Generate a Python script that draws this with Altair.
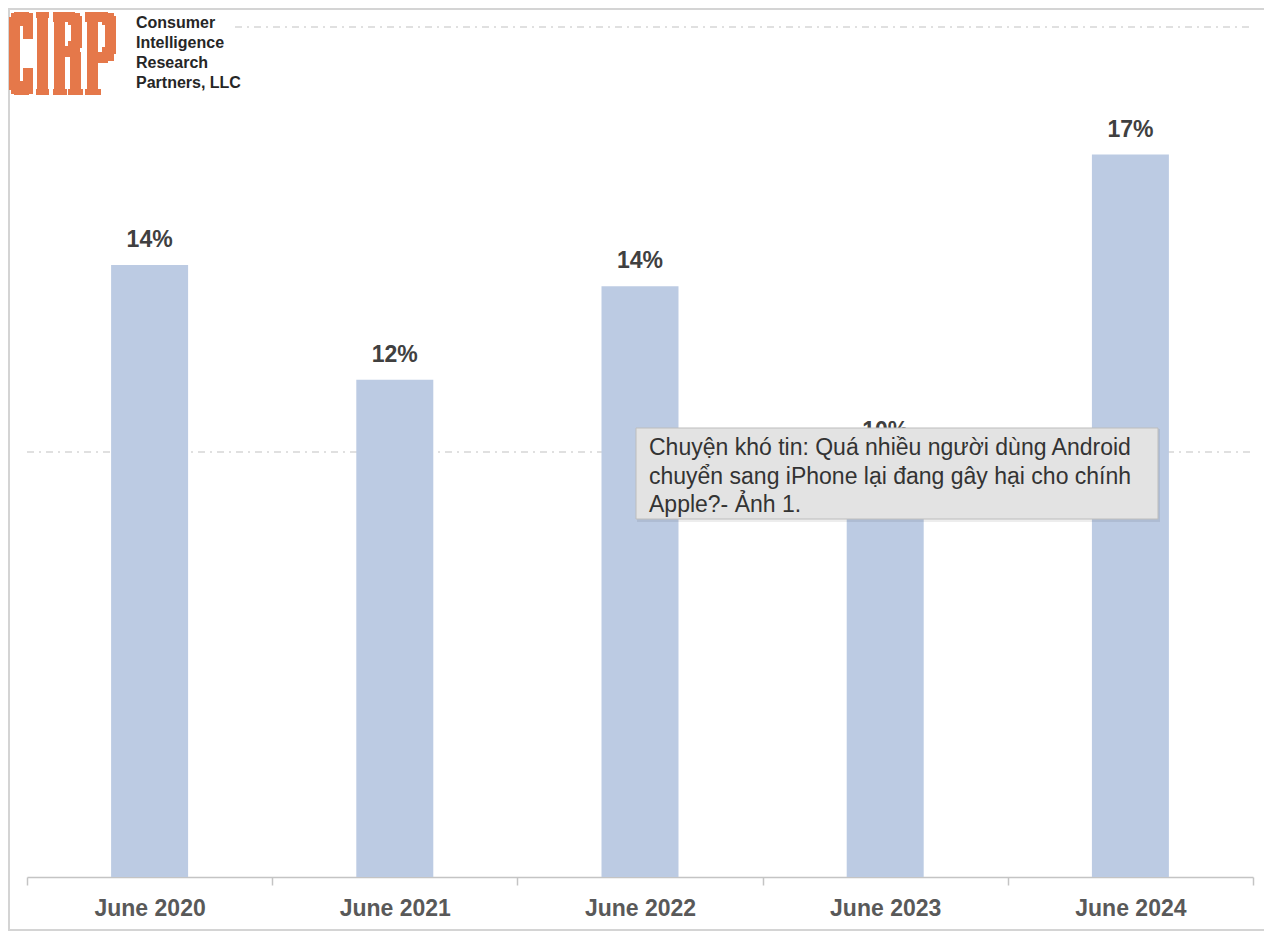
import altair as alt
import pandas as pd

periods = ["June 2020", "June 2021", "June 2022", "June 2023", "June 2024"]
shares = [14.4, 11.7, 13.9, 9.9, 17.0]
share_labels = ["14%", "12%", "14%", "10%", "17%"]

logo_lines = ["Consumer", "Intelligence", "Research", "Partners, LLC"]
tooltip_lines = ["Chuyện khó tin: Quá nhiều người dùng Android",
                 "chuyển sang iPhone lại đang gây hại cho chính",
                 "Apple?- Ảnh 1."]

df = pd.DataFrame({"period": periods, "share": shares, "label": share_labels})

W, H = 1226, 850
Y_SCALE = alt.Scale(domain=[0, 20], nice=False, zero=True)
X_ENC = alt.X(
    "period:N", sort=periods,
    scale=alt.Scale(paddingInner=0, paddingOuter=0),
    axis=alt.Axis(title=None, labelAngle=0, tickBand="extent", domainColor="#c4c4c4",
                  domainWidth=1.5, tickColor="#c4c4c4", tickWidth=1.5, tickSize=8,
                  labelFont="Liberation Sans, sans-serif",
                  labelFontSize=23, labelFontWeight="bold", labelColor="#595959",
                  labelPadding=12),
)

base = alt.Chart(df)

bars = base.mark_bar(width=alt.RelativeBandSize(0.314), color="#bccbe3").encode(
    x=X_ENC,
    y=alt.Y("share:Q", scale=Y_SCALE, axis=None),
)
labels = base.mark_text(dy=-25, baseline="middle", fontWeight="bold", fontSize=23,
                        font="Liberation Sans, sans-serif",
                        color="#404040").encode(
    x=alt.X("period:N", sort=periods),
    y=alt.Y("share:Q", scale=Y_SCALE, axis=None),
    text="label:N",
)

one = alt.Chart(pd.DataFrame({"a": [0]}))
dash = [7, 5, 2, 5]
grid10 = one.mark_rule(color="#d6d6d6", strokeWidth=1.5, strokeDash=dash).encode(
    y=alt.Y(datum=10, scale=Y_SCALE, axis=None), x=alt.value(0), x2=alt.value(W))
grid20 = one.mark_rule(color="#d6d6d6", strokeWidth=1.5, strokeDash=dash).encode(
    y=alt.Y(datum=20, scale=Y_SCALE, axis=None), x=alt.value(208), x2=alt.value(W))

frame = one.mark_rect(fill="transparent", stroke="#d4d4d4", strokeWidth=2).encode(
    x=alt.value(-18), x2=alt.value(W + 40), y=alt.value(-18), y2=alt.value(903))

# CIRP logo: block letters built from rectangles (logo box is 108 x 83 px)
LOGO_X, LOGO_Y = -18, -15
glyph_rects = [
    # C
    (0, 5, 11, 78), (2, 1, 14, 14), (2, 69, 14, 82), (5, 0, 20, 10), (5, 73, 20, 83),
    (14, 1, 24, 27), (14, 56, 24, 82),
    # I
    (28, 0, 39, 83), (27, 0, 40, 6), (27, 77, 40, 83),
    # R
    (45, 0, 56, 83), (44, 0, 66, 10), (44, 77, 58, 83), (62, 4, 73, 36), (45, 34, 66, 45),
    (61, 40, 72, 83), (59, 77, 74, 83), (59, 1, 71, 13), (59, 29, 71, 45),
    # P
    (78, 0, 89, 83), (76, 0, 99, 10), (76, 77, 92, 83), (96, 4, 107, 42), (78, 40, 99, 51),
    (93, 1, 105, 13), (93, 35, 105, 49),
]
logo_layers = [
    one.mark_rect(color="#e5784a", strokeWidth=0).encode(
        x=alt.value(LOGO_X + r[0]), x2=alt.value(LOGO_X + r[2]),
        y=alt.value(LOGO_Y + r[1]), y2=alt.value(LOGO_Y + r[3]))
    for r in glyph_rects
]

logo_text = one.mark_text(
    align="left", baseline="alphabetic", lineHeight=20,
    font="Liberation Sans, sans-serif", fontWeight="bold",
    fontSize=16, color="#262626").encode(
    x=alt.value(109), y=alt.value(1), text=alt.value(logo_lines))

tip_shadow = one.mark_rect(fill="#000000", opacity=0.07).encode(
    x=alt.value(610), x2=alt.value(1133), y=alt.value(402), y2=alt.value(495))
tip_box = one.mark_rect(fill="#e3e3e3", stroke="#bdbdbd", strokeWidth=1).encode(
    x=alt.value(609), x2=alt.value(1131), y=alt.value(401), y2=alt.value(492))
tip_text = one.mark_text(
    align="left", baseline="alphabetic", lineHeight=28.5,
    font="Liberation Sans, Arial, sans-serif", fontSize=23, color="#333333").encode(
    x=alt.value(622), y=alt.value(428), text=alt.value(tooltip_lines))

chart = alt.layer(
    frame, grid10, grid20, bars, labels, *logo_layers, logo_text,
    tip_shadow, tip_box, tip_text
).properties(
    width=W, height=H,
    padding={"left": 19, "top": 19, "right": 11, "bottom": 55},
    autosize=alt.AutoSizeParams(type="none"),
    background="white",
).configure_view(stroke=None)

chart.save("out.html", embed_options={"renderer": "svg", "actions": False})
